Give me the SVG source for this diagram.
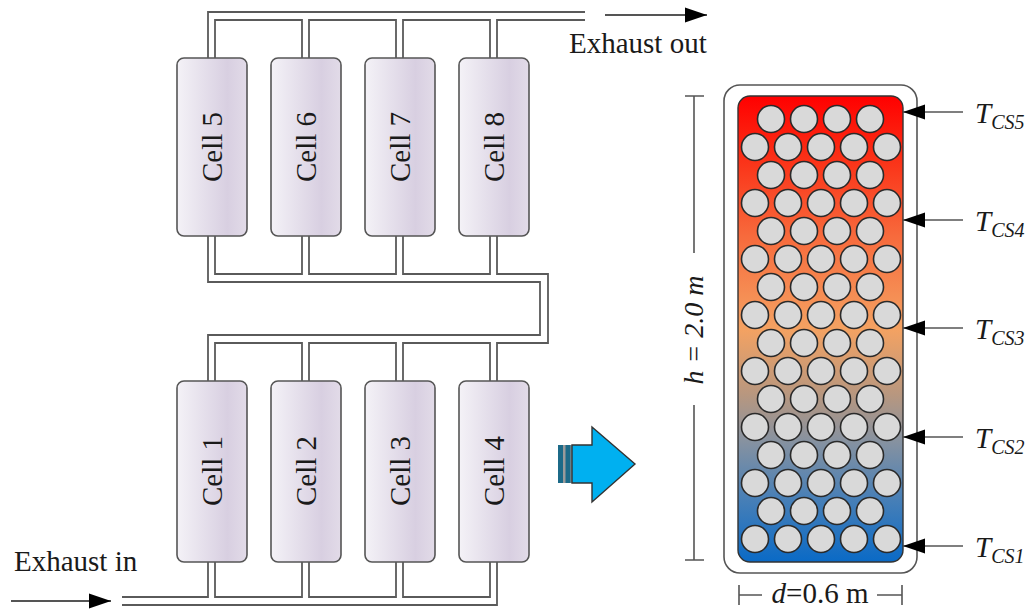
<svg xmlns="http://www.w3.org/2000/svg" width="1034" height="611" viewBox="0 0 1034 611">
  <defs>
    <linearGradient id="cellFill" x1="0" y1="0" x2="1" y2="0">
      <stop offset="0" stop-color="#f4f2f7"/>
      <stop offset="0.72" stop-color="#d8cfe1"/>
      <stop offset="1" stop-color="#e2dbe8"/>
    </linearGradient>
    <linearGradient id="heatFill" x1="0" y1="0" x2="0" y2="1">
      <stop offset="0" stop-color="#ff0000"/>
      <stop offset="0.12" stop-color="#fb2c14"/>
      <stop offset="0.3" stop-color="#f76a3c"/>
      <stop offset="0.5" stop-color="#f4a262"/>
      <stop offset="0.64" stop-color="#b8977f"/>
      <stop offset="0.74" stop-color="#8792a0"/>
      <stop offset="0.86" stop-color="#4a80b6"/>
      <stop offset="1" stop-color="#0a6ac6"/>
    </linearGradient>
    <marker id="headBlack" markerUnits="userSpaceOnUse" markerWidth="24" markerHeight="16" refX="22" refY="8" orient="auto">
      <path d="M0,0.5 L22,8 L0,15.5 Z" fill="#000"/>
    </marker>
    <style>
      .pipe { fill: none; stroke: #5a5a5a; stroke-width: 1.8; }
      .cell { fill: url(#cellFill); stroke: #555; stroke-width: 1.6; }
      .label { font-family: "Liberation Serif", "Times New Roman", serif; font-size: 29px; fill: #1a1a1a; }
      .flow { stroke: #555; stroke-width: 1.8; fill: none; marker-end: url(#headBlack); }
      .probe { stroke: #555; stroke-width: 1.6; fill: none; marker-end: url(#headBlack); }
      .ball { fill: #d9d9d9; stroke: #2a2a2a; stroke-width: 1.6; }
      .dim { stroke: #555; stroke-width: 1.6; fill: none; }
      .tsym { font-family: "Liberation Serif", "Times New Roman", serif; font-style: italic; fill: #1a1a1a; }
    </style>
  </defs>

  <rect width="1034" height="611" fill="#fff"/>

  <text class="label" x="569" y="53">Exhaust out</text>
  <text class="label" x="14" y="571">Exhaust in</text>

  <!-- upper bank -->
  <g id="cell-5">
    <rect class="cell" x="177" y="58" width="70" height="178" rx="7"/>
    <text class="label" text-anchor="middle" transform="translate(222,147) rotate(-90)">Cell 5</text>
  </g>
  <g id="cell-6">
    <rect class="cell" x="271" y="58" width="70" height="178" rx="7"/>
    <text class="label" text-anchor="middle" transform="translate(316,147) rotate(-90)">Cell 6</text>
  </g>
  <g id="cell-7">
    <rect class="cell" x="365" y="58" width="70" height="178" rx="7"/>
    <text class="label" text-anchor="middle" transform="translate(410,147) rotate(-90)">Cell 7</text>
  </g>
  <g id="cell-8">
    <rect class="cell" x="459" y="58" width="70" height="178" rx="7"/>
    <text class="label" text-anchor="middle" transform="translate(504,147) rotate(-90)">Cell 8</text>
  </g>

  <!-- lower bank -->
  <g id="cell-1">
    <rect class="cell" x="177" y="381" width="70" height="181" rx="7"/>
    <text class="label" text-anchor="middle" transform="translate(222,471) rotate(-90)">Cell 1</text>
  </g>
  <g id="cell-2">
    <rect class="cell" x="271" y="381" width="70" height="181" rx="7"/>
    <text class="label" text-anchor="middle" transform="translate(316,471) rotate(-90)">Cell 2</text>
  </g>
  <g id="cell-3">
    <rect class="cell" x="365" y="381" width="70" height="181" rx="7"/>
    <text class="label" text-anchor="middle" transform="translate(410,471) rotate(-90)">Cell 3</text>
  </g>
  <g id="cell-4">
    <rect class="cell" x="459" y="381" width="70" height="181" rx="7"/>
    <text class="label" text-anchor="middle" transform="translate(504,471) rotate(-90)">Cell 4</text>
  </g>

  <!-- block arrow -->
  <g id="transition-arrow">
    <rect x="558" y="445" width="14" height="38" fill="#9a9a9a"/>
    <rect x="558" y="445" width="5" height="38" fill="#1c6a88"/>
    <rect x="565.5" y="445" width="5" height="38" fill="#1c6a88"/>
    <path d="M572,445 H592 V427 L635,464 L592,502 V483 H572 Z" fill="#00b0f0" stroke="#333" stroke-width="1.4" stroke-linejoin="miter"/>
  </g>

  <!-- packed-bed storage column -->
  <g id="storage-unit">
    <rect x="724" y="85" width="193" height="488" rx="16" fill="#fff" stroke="#555" stroke-width="1.6"/>
    <rect x="738" y="96" width="165" height="466" rx="12" fill="url(#heatFill)" stroke="#333" stroke-width="1.4"/>
    <g id="pebbles">
      <circle class="ball" cx="771" cy="119" r="13.5"/><circle class="ball" cx="804" cy="119" r="13.5"/><circle class="ball" cx="837" cy="119" r="13.5"/><circle class="ball" cx="870" cy="119" r="13.5"/>
      <circle class="ball" cx="755" cy="147" r="13.5"/><circle class="ball" cx="788" cy="147" r="13.5"/><circle class="ball" cx="821" cy="147" r="13.5"/><circle class="ball" cx="854" cy="147" r="13.5"/><circle class="ball" cx="887" cy="147" r="13.5"/>
      <circle class="ball" cx="771" cy="175" r="13.5"/><circle class="ball" cx="804" cy="175" r="13.5"/><circle class="ball" cx="837" cy="175" r="13.5"/><circle class="ball" cx="870" cy="175" r="13.5"/>
      <circle class="ball" cx="755" cy="203" r="13.5"/><circle class="ball" cx="788" cy="203" r="13.5"/><circle class="ball" cx="821" cy="203" r="13.5"/><circle class="ball" cx="854" cy="203" r="13.5"/><circle class="ball" cx="887" cy="203" r="13.5"/>
      <circle class="ball" cx="771" cy="231" r="13.5"/><circle class="ball" cx="804" cy="231" r="13.5"/><circle class="ball" cx="837" cy="231" r="13.5"/><circle class="ball" cx="870" cy="231" r="13.5"/>
      <circle class="ball" cx="755" cy="259" r="13.5"/><circle class="ball" cx="788" cy="259" r="13.5"/><circle class="ball" cx="821" cy="259" r="13.5"/><circle class="ball" cx="854" cy="259" r="13.5"/><circle class="ball" cx="887" cy="259" r="13.5"/>
      <circle class="ball" cx="771" cy="287" r="13.5"/><circle class="ball" cx="804" cy="287" r="13.5"/><circle class="ball" cx="837" cy="287" r="13.5"/><circle class="ball" cx="870" cy="287" r="13.5"/>
      <circle class="ball" cx="755" cy="315" r="13.5"/><circle class="ball" cx="788" cy="315" r="13.5"/><circle class="ball" cx="821" cy="315" r="13.5"/><circle class="ball" cx="854" cy="315" r="13.5"/><circle class="ball" cx="887" cy="315" r="13.5"/>
      <circle class="ball" cx="771" cy="343" r="13.5"/><circle class="ball" cx="804" cy="343" r="13.5"/><circle class="ball" cx="837" cy="343" r="13.5"/><circle class="ball" cx="870" cy="343" r="13.5"/>
      <circle class="ball" cx="755" cy="371" r="13.5"/><circle class="ball" cx="788" cy="371" r="13.5"/><circle class="ball" cx="821" cy="371" r="13.5"/><circle class="ball" cx="854" cy="371" r="13.5"/><circle class="ball" cx="887" cy="371" r="13.5"/>
      <circle class="ball" cx="771" cy="399" r="13.5"/><circle class="ball" cx="804" cy="399" r="13.5"/><circle class="ball" cx="837" cy="399" r="13.5"/><circle class="ball" cx="870" cy="399" r="13.5"/>
      <circle class="ball" cx="755" cy="427" r="13.5"/><circle class="ball" cx="788" cy="427" r="13.5"/><circle class="ball" cx="821" cy="427" r="13.5"/><circle class="ball" cx="854" cy="427" r="13.5"/><circle class="ball" cx="887" cy="427" r="13.5"/>
      <circle class="ball" cx="771" cy="455" r="13.5"/><circle class="ball" cx="804" cy="455" r="13.5"/><circle class="ball" cx="837" cy="455" r="13.5"/><circle class="ball" cx="870" cy="455" r="13.5"/>
      <circle class="ball" cx="755" cy="483" r="13.5"/><circle class="ball" cx="788" cy="483" r="13.5"/><circle class="ball" cx="821" cy="483" r="13.5"/><circle class="ball" cx="854" cy="483" r="13.5"/><circle class="ball" cx="887" cy="483" r="13.5"/>
      <circle class="ball" cx="771" cy="511" r="13.5"/><circle class="ball" cx="804" cy="511" r="13.5"/><circle class="ball" cx="837" cy="511" r="13.5"/><circle class="ball" cx="870" cy="511" r="13.5"/>
      <circle class="ball" cx="755" cy="539" r="13.5"/><circle class="ball" cx="788" cy="539" r="13.5"/><circle class="ball" cx="821" cy="539" r="13.5"/><circle class="ball" cx="854" cy="539" r="13.5"/><circle class="ball" cx="887" cy="539" r="13.5"/>
    </g>
  </g>

  <!-- sensor labels -->
  <g id="sensor-labels">
    <text class="tsym" x="975" y="123" font-size="29">T<tspan font-size="20" dy="6">CS5</tspan></text>
    <text class="tsym" x="975" y="231" font-size="29">T<tspan font-size="20" dy="6">CS4</tspan></text>
    <text class="tsym" x="975" y="339" font-size="29">T<tspan font-size="20" dy="6">CS3</tspan></text>
    <text class="tsym" x="975" y="448" font-size="29">T<tspan font-size="20" dy="6">CS2</tspan></text>
    <text class="tsym" x="975" y="557" font-size="29">T<tspan font-size="20" dy="6">CS1</tspan></text>
  </g>

  <!-- dimensions -->
  <g id="height-dimension">
    <path class="dim" d="M685,96 H704 M694,96 V253 M694,405 V560 M685,560 H704"/>
    <text class="tsym" font-size="28" text-anchor="middle" transform="translate(703,330) rotate(-90)">h = 2.0 m</text>
  </g>
  <g id="width-dimension">
    <path class="dim" d="M739,585 V605 M739,595 H762 M877,595 H902 M902,585 V605"/>
    <text class="label" x="820" y="603" text-anchor="middle"><tspan font-style="italic">d</tspan>=0.6 m</text>
  </g>

  <!-- exhaust piping (each pipe drawn as two walls), flow arrows and probes -->
  <g id="connectors">
    <!-- top header -->
    <path class="pipe" d="M208,58 V12 H585"/>
    <path class="pipe" d="M215,58 V20 H302 V58"/>
    <path class="pipe" d="M309,58 V20 H396 V58"/>
    <path class="pipe" d="M403,58 V20 H490 V58"/>
    <path class="pipe" d="M497,58 V20 H585"/>
    <!-- crossover between the two banks -->
    <path class="pipe" d="M208,236 V282 H540 V335 H208 V381"/>
    <path class="pipe" d="M215,236 V274 H302 V236"/>
    <path class="pipe" d="M309,236 V274 H396 V236"/>
    <path class="pipe" d="M403,236 V274 H490 V236"/>
    <path class="pipe" d="M497,236 V274 H548 V343 H497 V381"/>
    <path class="pipe" d="M215,381 V343 H302 V381"/>
    <path class="pipe" d="M309,381 V343 H396 V381"/>
    <path class="pipe" d="M403,381 V343 H490 V381"/>
    <!-- bottom inlet manifold -->
    <path class="pipe" d="M122,597 H208 V562"/>
    <path class="pipe" d="M215,562 V597 H302 V562"/>
    <path class="pipe" d="M309,562 V597 H396 V562"/>
    <path class="pipe" d="M403,562 V597 H490 V562"/>
    <path class="pipe" d="M497,562 V605 H122"/>
    <!-- flow arrows -->
    <line class="flow" x1="605" y1="15" x2="707" y2="15"/>
    <line class="flow" x1="11" y1="601" x2="111" y2="601"/>
    <!-- temperature probes -->
    <line class="probe" x1="963" y1="112" x2="903" y2="112"/>
    <line class="probe" x1="963" y1="220" x2="903" y2="220"/>
    <line class="probe" x1="963" y1="328" x2="903" y2="328"/>
    <line class="probe" x1="963" y1="437" x2="903" y2="437"/>
    <line class="probe" x1="963" y1="546" x2="903" y2="546"/>
  </g>
</svg>
